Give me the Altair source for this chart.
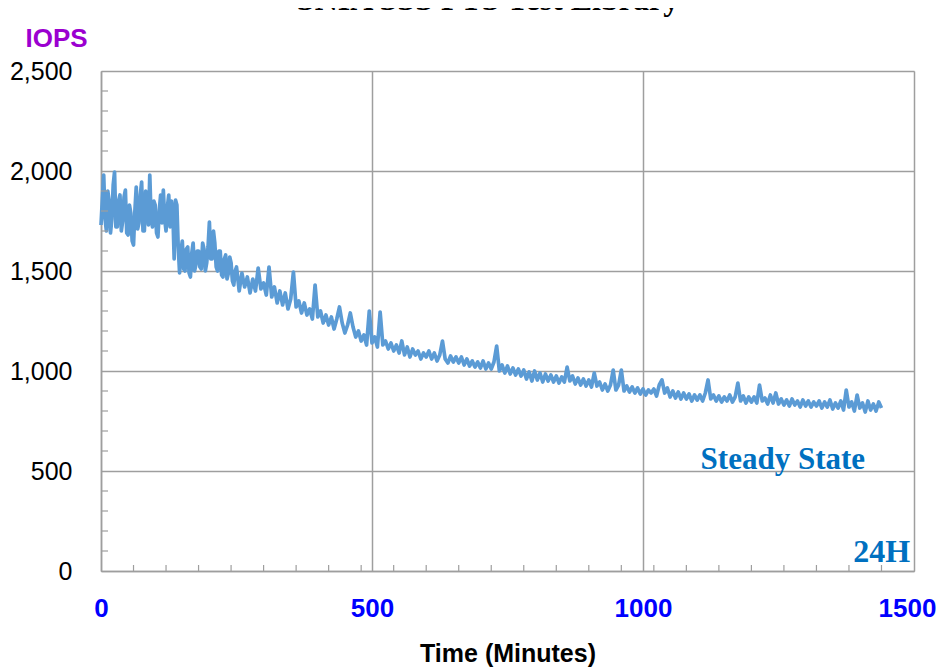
import altair as alt
import pandas as pd

# IOPS, 2.5-minute samples for 0-247.5 min
iops_early = [
    # 0-57.5
    1730, 1860, 1980, 1760, 1700, 1900, 1850, 1690, 1760, 1930, 1995, 1720,
    1720, 1850, 1880, 1700, 1750, 1870, 1905, 1690, 1680, 1830, 1790, 1650,
    # 60-117.5
    1630, 1800, 1920, 1710, 1740, 1880, 1945, 1700, 1700, 1900, 1860, 1730,
    1980, 1760, 1720, 1850, 1830, 1690, 1670, 1800, 1880, 1740, 1905, 1760,
    # 120-177.5
    1700, 1820, 1880, 1720, 1850, 1800, 1560, 1855, 1830, 1620, 1490, 1600,
    1650, 1510, 1500, 1610, 1620, 1490, 1470, 1590, 1640, 1500, 1530, 1600,
    # 180-237.5
    1600, 1520, 1510, 1640, 1610, 1500, 1540, 1620, 1745, 1560, 1560, 1700,
    1640, 1520, 1500, 1600, 1600, 1480, 1470, 1560, 1580, 1460, 1490, 1570,
    # 240-247.5
    1540, 1450, 1430, 1500,
]
# IOPS, 5-minute samples for 250-1440 min
iops_late = [
    # 250-295
    1520, 1400, 1490, 1420, 1470, 1390, 1460, 1400, 1515, 1410,
    # 300-355
    1440, 1380, 1520, 1370, 1420, 1340, 1400, 1330, 1390, 1310, 1360, 1495,
    # 360-415
    1320, 1350, 1290, 1340, 1280, 1310, 1260, 1430, 1270, 1300, 1240, 1280,
    # 420-475
    1230, 1270, 1210, 1260, 1320, 1240, 1190, 1230, 1290, 1220, 1170, 1200,
    # 480-535
    1150, 1180, 1130, 1300, 1140, 1170, 1120, 1295, 1130, 1150, 1110, 1140,
    # 540-595
    1100, 1130, 1090, 1150, 1080, 1120, 1070, 1110, 1080, 1100, 1060, 1090,
    # 600-655
    1070, 1100, 1060, 1090, 1050, 1080, 1150, 1060, 1040, 1075, 1045, 1070,
    # 660-715
    1040, 1070, 1030, 1060, 1025, 1050, 1020, 1045, 1015, 1050, 1010, 1040,
    # 720-775
    1010, 1045, 1125, 1000, 1030, 990, 1025, 985, 1015, 980, 1010, 975,
    # 780-835
    1005, 960, 995, 950, 1000, 955, 990, 945, 985, 950, 980, 945,
    # 840-895
    975, 940, 970, 945, 1020, 950, 975, 935, 965, 930, 960, 925,
    # 900-955
    955, 920, 990, 925, 945, 905, 935, 900, 930, 1005, 905, 930,
    # 960-1015
    1005, 900, 925, 895, 920, 890, 915, 885, 910, 880, 905, 890,
    # 1020-1075
    910, 875, 930, 955, 890, 915, 870, 900, 865, 895, 860, 890,
    # 1080-1135
    860, 885, 850, 880, 855, 880, 850, 890, 955, 860, 880, 850,
    # 1140-1195
    875, 845, 870, 850, 880, 845, 870, 940, 850, 875, 840, 870,
    # 1200-1255
    845, 870, 840, 930, 850, 865, 835, 880, 840, 890, 835, 860,
    # 1260-1315
    830, 855, 825, 860, 830, 850, 820, 855, 825, 850, 820, 845,
    # 1320-1375
    825, 850, 815, 845, 820, 855, 810, 840, 815, 850, 805, 905,
    # 1380-1435
    820, 845, 800, 880, 815, 840, 795, 850, 805, 835, 800, 845,
    # 1440
    815,
]
minutes = [i * 2.5 for i in range(len(iops_early))] + \
          [250 + 5 * i for i in range(len(iops_late))]
iops = iops_early + iops_late

x_ticks = [0, 500, 1000, 1500]
y_ticks = [0, 500, 1000, 1500, 2000, 2500]
x_minor = [m for m in range(60, 1441, 60) if m % 500 != 0]
y_minor = [v for v in range(100, 2500, 100) if v % 500 != 0]

title_text = "SNIA SSS PTS Test Library"
y_title = "IOPS"
x_title = "Time (Minutes)"
notes = pd.DataFrame({"x": [1258], "y": [500], "t": ["Steady State"]})
notes2 = pd.DataFrame({"x": [1493], "y": [45], "t": ["24H"]})

SANS = "Liberation Sans, Arial, sans-serif"
SERIF = "Liberation Serif, Times New Roman, serif"
GRAY = "#9E9E9E"

xs = alt.Scale(domain=[0, 1500], nice=False, zero=False)
ys = alt.Scale(domain=[0, 2500], nice=False)

xaxis = alt.Axis(
    values=x_ticks, format="d", grid=True, gridColor=GRAY, gridWidth=1.5,
    domainColor=GRAY, domainWidth=1.5, ticks=False, labelPadding=24,
    labelFont=SANS, labelFontSize=26, labelFontWeight="bold", labelColor="#0000FF",
    labelFlush=False,
    labelOffset={"condition": {"test": "datum.value == 1500", "value": -7}, "value": 0},
    title=x_title, titleFont=SANS, titleFontSize=25, titleFontWeight="bold",
    titleColor="black", titleBaseline="alphabetic", titleY=90,
)
yaxis = alt.Axis(
    values=y_ticks, format=",d", grid=True, gridColor=GRAY, gridWidth=1.5,
    domainColor=GRAY, domainWidth=1.5, ticks=False, labelPadding=29,
    labelFont=SANS, labelFontSize=25, labelColor="black", labelFlush=False,
    title=y_title, titleFont=SANS, titleFontSize=26, titleFontWeight="bold",
    titleColor="#9B00D0", titleAngle=0, titleAlign="center",
    titleBaseline="alphabetic", titleX=-45, titleY=-25,
)

df = pd.DataFrame({"minute": minutes, "iops": iops})

line = alt.Chart(df).mark_line(color="#5B9BD5", strokeWidth=3.7, strokeJoin="round").encode(
    x=alt.X("minute:Q", scale=xs, axis=xaxis),
    y=alt.Y("iops:Q", scale=ys, axis=yaxis),
)

yminor = alt.Chart(pd.DataFrame({"v": y_minor})).mark_rule(color=GRAY, strokeWidth=1.2).encode(
    y=alt.Y("v:Q", scale=ys, axis=yaxis), x=alt.value(0), x2=alt.value(7)
)
xminor = alt.Chart(pd.DataFrame({"v": x_minor})).mark_rule(color=GRAY, strokeWidth=1.2).encode(
    x=alt.X("v:Q", scale=xs, axis=xaxis), y=alt.value(500), y2=alt.value(494)
)

steady = alt.Chart(notes).mark_text(
    font=SERIF, fontWeight="bold", fontSize=31, color="#0070C0",
    align="center", baseline="alphabetic", dy=-2,
).encode(x=alt.X("x:Q", scale=xs, axis=xaxis), y=alt.Y("y:Q", scale=ys, axis=yaxis), text="t:N")

h24 = alt.Chart(notes2).mark_text(
    font=SERIF, fontWeight="bold", fontSize=32, color="#0070C0",
    align="right", baseline="alphabetic",
).encode(x=alt.X("x:Q", scale=xs, axis=xaxis), y=alt.Y("y:Q", scale=ys, axis=yaxis), text="t:N")

title = alt.Chart(pd.DataFrame({"t": [title_text]})).mark_text(
    font=SERIF, fontWeight="bold", fontSize=32, color="black",
    align="center", baseline="alphabetic",
).encode(x=alt.value(387), y=alt.value(-61), text="t:N")

chart = alt.layer(line, yminor, xminor, steady, h24, title).properties(
    width=813, height=500,
    autosize=alt.AutoSizeParams(type="none"),
    padding={"left": 93, "top": 63, "right": 22, "bottom": 100},
).configure_view(stroke=GRAY, strokeWidth=1.5).configure(background="white")

chart.save("out.html", embed_options={"renderer": "svg", "actions": False})
